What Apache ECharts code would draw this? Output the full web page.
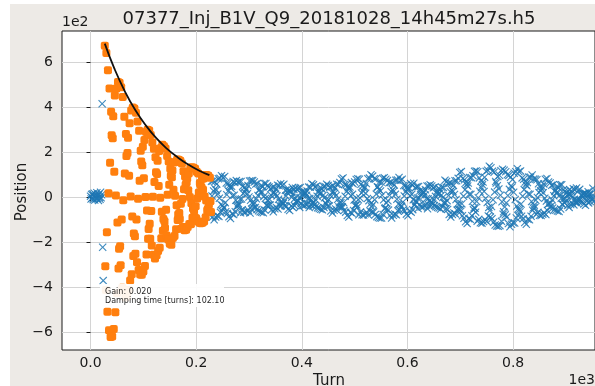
<!DOCTYPE html>
<html>
<head>
<meta charset="utf-8">
<script src="https://cdn.jsdelivr.net/npm/echarts@6/dist/echarts.min.js"></script>
<style>
  html, body { margin: 0; padding: 0; background: #ffffff; }
  #chart { width: 595px; height: 386px; }
</style>
</head>
<body>
<div id="chart"></div>
<script>
// Turn-by-turn beam position after the injection kick, with the damped-oscillation fit.
const chartTitle = '07377_Inj_B1V_Q9_20181028_14h45m27s.h5';
const xTicks = [0, 200, 400, 600, 800];
const yTicks = [-600, -400, -200, 0, 200, 400, 600];

// Position readings before and right at the kick (turn 0 onwards)
const preKickStart = 0;
const preKickPos = [5, -8, 12, -3, 15, -10, 6, 18, -12, 2, 10, -6, 20, -4, 8, -14, 14, 0, -9, 22, -2, 11, 415, -222, -370];

// Turns used for the damping fit (turn 27 onwards)
const fitStart = 27;
const fitPos = [
  672, -306, -412, 640, -155, -508, 564, 18, -590, 483, 153, -620, 380, 275, -618, 262, 360, -585, 113, 452, -510, 8, 483, -426, -112, 512, -316, -229,
  508, -217, -302, 488, -99, -402, 445, -13, -414, 357, 105, -445, 281, 183, -442, 197, 264, -412, 95, 328, -370, 3, 385, -342, -85, 398, -261, -161,
  394, -173, -251, 375, -99, -288, 336, -7, -323, 295, 73, -343, 206, 159, -344, 142, 224, -330, 84, 254, -305, 1, 290, -254, -59, 300, -184, -141,
  296, -118, -184, 276, -61, -214, 243, 2, -255, 215, 68, -272, 178, 111, -257, 103, 162, -239, 50, 205, -224, -2, 219, -182, -64, 233, -149, -97,
  226, -107, -136, 216, -55, -170, 183, 11, -188, 159, 56, -206, 127, 96, -211, 89, 119, -181, 33, 154, -172, 7, 157, -142, -35, 168, -101, -77,
  166, -70, -96, 162, -29, -140, 150, -8, -132, 115, 35, -146, 92, 56, -144, 67, 84, -132, 31, 106, -119, 1, 131, -120, -27, 133, -91, -50,
  131, -60, -88, 127, -40, -93, 113, -6, -106, 105, 21, -113, 63, 57, -115, 44, 82, -113, 33, 83, -108, 3, 99, -89, -14, 99, -59, -52,
  96, -32, -62, 87, -18, -65
];

// Free oscillation after the fit window (turn 229 onwards)
const freeStart = 229;
const freePos = [
  71, 6, -88, 72, 28, -100, 69, 37, -88, 31, 59, -82, 15, 82, -85, -4, 84, -67, -32, 96, -61, -37,
  87, -45, -48, 92, -24, -64, 63, 11, -72, 60, 28, -87, 52, 45, -94, 40, 49, -73, 8, 70, -77, 9, 66, -64, -13, 74, -42, -37,
  67, -28, -36, 70, -9, -69, 70, -8, -55, 49, 17, -66, 42, 22, -67, 34, 38, -61, 16, 52, -58, 1, 72, -70, -13, 73, -53, -24,
  74, -31, -48, 68, -26, -45, 59, -7, -54, 61, 8, -60, 30, 35, -64, 23, 52, -66, 22, 48, -69, 3, 61, -57, -5, 61, -35, -36,
  51, -13, -35, 46, -9, -34, 38, 9, -55, 43, 19, -64, 46, 21, -51, 15, 36, -46, 6, 53, -52, -9, 51, -38, -23, 60, -38, -21,
  52, -29, -26, 58, -16, -37, 31, 6, -40, 33, 20, -53, 30, 29, -59, 24, 27, -39, 0, 43, -45, 14, 34, -37, -5, 40, -20, -21,
  37, -15, -17, 41, -2, -45, 43, -3, -28, 25, 10, -37, 23, 9, -37, 21, 19, -32, 9, 28, -31, -6, 45, -46, -6, 44, -34, -11,
  60, -25, -39, 55, -23, -34, 46, -11, -41, 50, 5, -47, 21, 29, -50, 17, 43, -53, 19, 37, -56, 8, 48, -46, -2, 48, -26, -30,
  58, -16, -40, 52, -11, -39, 44, 9, -61, 48, 21, -70, 51, 24, -58, 18, 41, -52, 8, 58, -58, -9, 57, -43, -25, 66, -43, -24,
  81, -42, -44, 86, -23, -59, 57, 5, -66, 55, 27, -81, 48, 42, -88, 37, 45, -67, 7, 65, -71, 13, 60, -59, -12, 68, -38, -34,
  79, -33, -44, 82, -11, -78, 80, -3, -65, 58, 19, -78, 50, 27, -79, 39, 46, -73, 18, 61, -68, -6, 82, -79, -15, 85, -61, -29,
  100, -42, -64, 94, -32, -65, 82, -11, -77, 81, 14, -86, 46, 46, -90, 34, 68, -92, 28, 68, -92, 9, 84, -77, -11, 87, -51, -47,
  80, -25, -53, 74, -16, -57, 64, 9, -81, 66, 26, -92, 64, 33, -80, 27, 54, -74, 13, 76, -78, -9, 77, -61, -30, 88, -56, -33,
  75, -39, -41, 80, -22, -55, 52, 6, -61, 51, 26, -75, 45, 39, -82, 34, 42, -61, 6, 61, -66, 13, 55, -55, -11, 62, -35, -31,
  43, -18, -21, 47, -3, -50, 48, -2, -33, 30, 11, -43, 27, 12, -43, 24, 23, -38, 10, 33, -36, -5, 50, -51, -7, 50, -38, -14,
  55, -23, -36, 50, -22, -30, 42, -11, -37, 46, 4, -42, 18, 27, -45, 15, 40, -48, 18, 33, -52, 9, 44, -42, -1, 43, -23, -28,
  76, -24, -51, 70, -15, -54, 60, 8, -77, 63, 25, -88, 62, 32, -76, 26, 52, -70, 12, 73, -74, -10, 73, -58, -29, 84, -54, -32,
  110, -55, -62, 114, -29, -82, 84, 5, -93, 78, 33, -109, 66, 55, -117, 50, 63, -95, 13, 88, -98, 13, 87, -82, -18, 96, -56, -47,
  115, -49, -66, 117, -19, -106, 113, -2, -98, 86, 27, -113, 72, 43, -115, 55, 68, -108, 26, 89, -101, -5, 115, -107, -23, 120, -83, -45,
  138, -59, -88, 131, -41, -95, 116, -11, -111, 111, 23, -123, 70, 63, -128, 51, 92, -129, 37, 98, -126, 9, 118, -107, -20, 124, -75, -64,
  120, -43, -78, 113, -25, -88, 100, 8, -117, 97, 35, -131, 89, 51, -120, 45, 79, -113, 22, 107, -114, -10, 113, -92, -39, 127, -81, -51,
  113, -56, -64, 117, -30, -84, 86, 5, -95, 80, 34, -112, 68, 56, -120, 51, 65, -98, 14, 90, -100, 13, 89, -84, -19, 99, -58, -48,
  81, -35, -46, 80, -13, -76, 78, -1, -67, 60, 21, -80, 48, 29, -81, 37, 48, -75, 20, 59, -70, -4, 80, -77, -17, 83, -59, -31,
  68, -28, -44, 63, -25, -40, 53, -11, -48, 56, 7, -55, 26, 32, -58, 20, 48, -61, 21, 43, -63, 9, 55, -52, -4, 56, -31, -33,
  32, -5, -23, 27, -5, -19, 20, 8, -37, 28, 15, -45, 34, 13, -32, 7, 24, -27, 2, 38, -34, -9, 33, -23, -19, 41, -26, -13,
  29, -19, -12, 35, -11, -19, 11, 6, -20, 15, 15, -30, 16, 19, -36, 14, 13, -16, -5, 25, -25, 13, 14, -19, 0, 17, -6, -11,
  40, -20
];

// Exponential envelope of the fit (damping time 102.10 turns)
const envTurns = [27, 45, 65, 85, 105, 125, 145, 165, 185, 205, 225];
const envPos = [682, 572, 470, 386, 318, 261, 215, 177, 145, 119, 98];

const gainText = 'Gain: 0.020';
const dampText = 'Damping time [turns]: 102.10';

const FONT = 'DejaVu Sans';
const BLUE = '#1f77b4';
const ORANGE = '#ff7f0e';
// thin diagonal cross used for the raw readings
const CROSS = 'path://M0,1L1,0L5,4L9,0L10,1L6,5L10,9L9,10L5,6L1,10L0,9L4,5Z';

function toPairs(start, values) {
  return values.map((v, i) => [start + i, v]);
}

const blueData = toPairs(preKickStart, preKickPos).concat(toPairs(freeStart, freePos));
const orangeData = toPairs(fitStart, fitPos);
const envData = envTurns.map((t, i) => [t, envPos[i]]);

const chart = echarts.init(document.getElementById('chart'), null, { renderer: 'canvas' });

const fmtMinus = s => s.replace('-', '\u2212');

chart.setOption({
  animation: false,
  backgroundColor: '#ffffff',
  grid: {
    left: 62, top: 31, right: -1, bottom: 36,
    show: true, backgroundColor: '#ffffff', borderColor: '#1a1a1a', borderWidth: 1
  },
  xAxis: {
    type: 'value', min: -54, max: 955,
    axisLine: { show: false },
    axisTick: { show: true, inside: false, length: 4, lineStyle: { color: '#1a1a1a' }, customValues: xTicks },
    axisLabel: {
      customValues: xTicks, margin: 6, fontSize: 14, fontFamily: FONT, color: '#1a1a1a',
      formatter: v => (v / 1000).toFixed(1)
    },
    splitLine: { show: true, lineStyle: { color: '#d4d4d4', width: 1 } }
  },
  yAxis: {
    type: 'value', min: -678, max: 738,
    axisLine: { show: false },
    axisTick: { show: true, inside: false, length: 4, lineStyle: { color: '#1a1a1a' }, customValues: yTicks },
    axisLabel: {
      customValues: yTicks, margin: 9, fontSize: 14, fontFamily: FONT, color: '#1a1a1a',
      formatter: v => fmtMinus(String(Math.round(v / 100)))
    },
    splitLine: { show: true, lineStyle: { color: '#d4d4d4', width: 1 } }
  },
  graphic: [
    { type: 'rect', z: -10, silent: true, shape: { x: 10, y: 4, width: 585, height: 382 }, style: { fill: '#edeae6' } },
    { type: 'text', z: 10, style: { text: chartTitle, x: 329, y: 19, textAlign: 'center', textVerticalAlign: 'middle', font: '18px "' + FONT + '"', fill: '#1a1a1a' } },
    { type: 'text', z: 10, style: { text: '1e2', x: 62, y: 22, textAlign: 'left', textVerticalAlign: 'middle', font: '14px "' + FONT + '"', fill: '#1a1a1a' } },
    { type: 'text', z: 10, style: { text: '1e3', x: 595, y: 380, textAlign: 'right', textVerticalAlign: 'middle', font: '14px "' + FONT + '"', fill: '#1a1a1a' } },
    { type: 'text', z: 10, style: { text: 'Turn', x: 329, y: 381, textAlign: 'center', textVerticalAlign: 'middle', font: '15px "' + FONT + '"', fill: '#1a1a1a' } },
    { type: 'text', z: 10, rotation: Math.PI / 2, x: 22, y: 192, style: { text: 'Position', x: 0, y: 0, textAlign: 'center', textVerticalAlign: 'middle', font: '15px "' + FONT + '"', fill: '#1a1a1a' } },
    { type: 'rect', z: 100, shape: { x: 100, y: 284, width: 124, height: 23 }, style: { fill: 'rgba(255,255,255,0.92)' } },
    { type: 'text', z: 101, style: { text: gainText, x: 105, y: 292, textAlign: 'left', textVerticalAlign: 'middle', font: '8px "' + FONT + '"', fill: '#262626' } },
    { type: 'text', z: 101, style: { text: dampText, x: 105, y: 301, textAlign: 'left', textVerticalAlign: 'middle', font: '8px "' + FONT + '"', fill: '#262626' } }
  ],
  series: [
    {
      type: 'scatter', data: blueData, symbol: CROSS, symbolSize: 8, z: 2,
      itemStyle: { color: BLUE, opacity: 0.85 }
    },
    {
      type: 'scatter', data: orangeData, symbol: 'roundRect', symbolSize: 8, z: 3,
      itemStyle: { color: ORANGE, opacity: 1 }
    },
    {
      type: 'line', data: envData, smooth: true, showSymbol: false, z: 4,
      lineStyle: { color: '#111111', width: 1.8 }
    }
  ]
});
</script>
</body>
</html>
